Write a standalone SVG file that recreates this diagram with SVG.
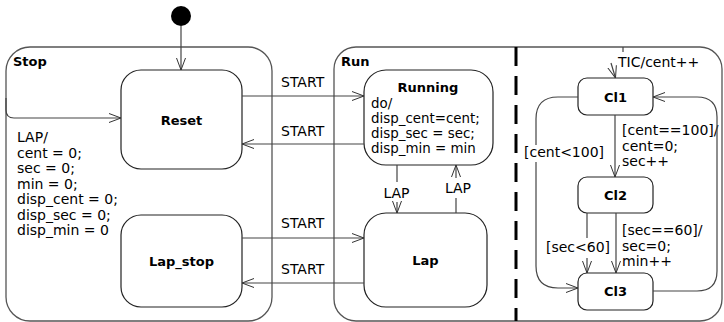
<svg xmlns="http://www.w3.org/2000/svg" width="724" height="322" viewBox="0 0 724 322">
  <defs>
    <marker id="open" viewBox="0 0 12 10" refX="12" refY="5" markerWidth="12" markerHeight="10" markerUnits="userSpaceOnUse" orient="auto">
      <path d="M0,0.5 L12,5 L0,9.5" fill="none" stroke="#333" stroke-width="1"/>
    </marker>
    <style>
      .region { fill: #fff; stroke: #555; stroke-width: 1.3; }
      .state { fill: #fff; stroke: #222; stroke-width: 1.2; }
      .edge { fill: none; stroke: #444; stroke-width: 1.2; }
      .arrow { marker-end: url(#open); }
      text { font-family: "DejaVu Sans", Verdana, sans-serif; font-size: 14px; fill: #000; }
      .title { font-weight: bold; font-size: 13px; }
      .name { font-weight: bold; font-size: 13px; text-anchor: middle; }
      .mid { text-anchor: middle; }
      .body { font-size: 13.4px; }
    </style>
  </defs>

  <!-- composite state Stop -->
  <g id="stop">
    <rect class="region" x="6" y="47" width="266" height="274" rx="24"/>
    <text class="title" x="13" y="66">Stop</text>
    <text x="17" y="142">LAP/</text>
    <text x="17" y="157.5">cent = 0;</text>
    <text x="17" y="173">sec = 0;</text>
    <text x="17" y="188.5">min = 0;</text>
    <text x="17" y="204">disp_cent = 0;</text>
    <text x="17" y="219.5">disp_sec = 0;</text>
    <text x="17" y="235">disp_min = 0</text>
  </g>

  <!-- composite state Run with two concurrent regions -->
  <g id="run">
    <rect class="region" x="334" y="47" width="388" height="274" rx="22"/>
    <text class="title" x="341" y="66">Run</text>
    <line x1="516" y1="47" x2="516" y2="321" stroke="#000" stroke-width="3" stroke-dasharray="19 10"/>
  </g>

  <g id="initial">
    <circle cx="181" cy="16" r="10" fill="#000"/>
  </g>

  <g id="reset">
    <rect class="state" x="121" y="70" width="121" height="99" rx="20"/>
    <text class="name" x="181.5" y="125">Reset</text>
  </g>

  <g id="lap_stop">
    <rect class="state" x="121" y="215" width="121" height="92" rx="20"/>
    <text class="name" x="181.5" y="266">Lap_stop</text>
  </g>

  <g id="running">
    <rect class="state" x="364" y="70" width="129" height="95" rx="22"/>
    <text class="name" x="428" y="92">Running</text>
    <text class="body" x="371" y="108">do/</text>
    <text class="body" x="371" y="123">disp_cent=cent;</text>
    <text class="body" x="371" y="138">disp_sec = sec;</text>
    <text class="body" x="371" y="153">disp_min = min</text>
  </g>

  <g id="lap">
    <rect class="state" x="364" y="213" width="123" height="94" rx="22"/>
    <text class="name" x="425.5" y="265">Lap</text>
  </g>

  <g id="cl1">
    <rect class="state" x="578" y="78" width="75" height="37" rx="9"/>
    <text class="name" x="615.5" y="101.5">Cl1</text>
  </g>

  <g id="cl2">
    <rect class="state" x="578" y="177" width="75" height="36" rx="9"/>
    <text class="name" x="615.5" y="200">Cl2</text>
  </g>

  <g id="cl3">
    <rect class="state" x="578" y="273" width="75" height="37" rx="9"/>
    <text class="name" x="615.5" y="296">Cl3</text>
  </g>

  <!-- transitions -->
  <g id="connectors">
    <line class="edge arrow" x1="181" y1="26" x2="181" y2="70"/>
    <path class="edge arrow" d="M6,98 L6,110 Q6,118 14,118 L121,118"/>

    <line class="edge arrow" x1="242" y1="96" x2="364" y2="96"/>
    <text x="281" y="87">START</text>
    <line class="edge arrow" x1="364" y1="144" x2="242" y2="144"/>
    <text x="281" y="136">START</text>
    <line class="edge arrow" x1="242" y1="238" x2="364" y2="238"/>
    <text x="281" y="228">START</text>
    <line class="edge arrow" x1="364" y1="283" x2="242" y2="283"/>
    <text x="281" y="274">START</text>

    <!-- Running -> Lap -->
    <line class="edge" x1="397" y1="165" x2="397" y2="182"/>
    <text class="mid" x="396.5" y="198">LAP</text>
    <line class="edge arrow" x1="397" y1="202" x2="397" y2="213"/>
    <!-- Lap -> Running -->
    <line class="edge" x1="456" y1="213" x2="456" y2="198"/>
    <text class="mid" x="458" y="193">LAP</text>
    <line class="edge arrow" x1="456" y1="178" x2="456" y2="165"/>

    <!-- TIC entry -->
    <line class="edge" x1="623" y1="47" x2="623" y2="52"/>
    <line class="edge arrow" x1="611" y1="63" x2="615.5" y2="78"/>
    <text x="618" y="67">TIC/cent++</text>

    <!-- Cl1 -> Cl2 -->
    <line class="edge arrow" x1="615" y1="115" x2="615" y2="177"/>
    <text x="622" y="135">[cent==100]/</text>
    <text x="622" y="150.5">cent=0;</text>
    <text x="622" y="166">sec++</text>

    <!-- Cl1 -> Cl3 -->
    <path class="edge" d="M578,97 L558,97 Q536,97 536,119 L536,145"/>
    <path class="edge arrow" d="M536,162 L536,266 Q536,288 558,288 L578,288"/>
    <text x="524" y="157">[cent&lt;100]</text>

    <!-- Cl2 -> Cl3 -->
    <line class="edge" x1="587" y1="213" x2="587" y2="238"/>
    <text x="546" y="252">[sec&lt;60]</text>
    <line class="edge arrow" x1="587" y1="258" x2="587" y2="273"/>
    <line class="edge arrow" x1="616" y1="213" x2="616" y2="273"/>
    <text x="622" y="235">[sec==60]/</text>
    <text x="622" y="250.5">sec=0;</text>
    <text x="622" y="266">min++</text>

    <!-- Cl3 -> Cl1 -->
    <path class="edge arrow" d="M653,291 L697,291 Q717,291 717,271 L717,117 Q717,97 697,97 L653,97"/>
  </g>
</svg>
